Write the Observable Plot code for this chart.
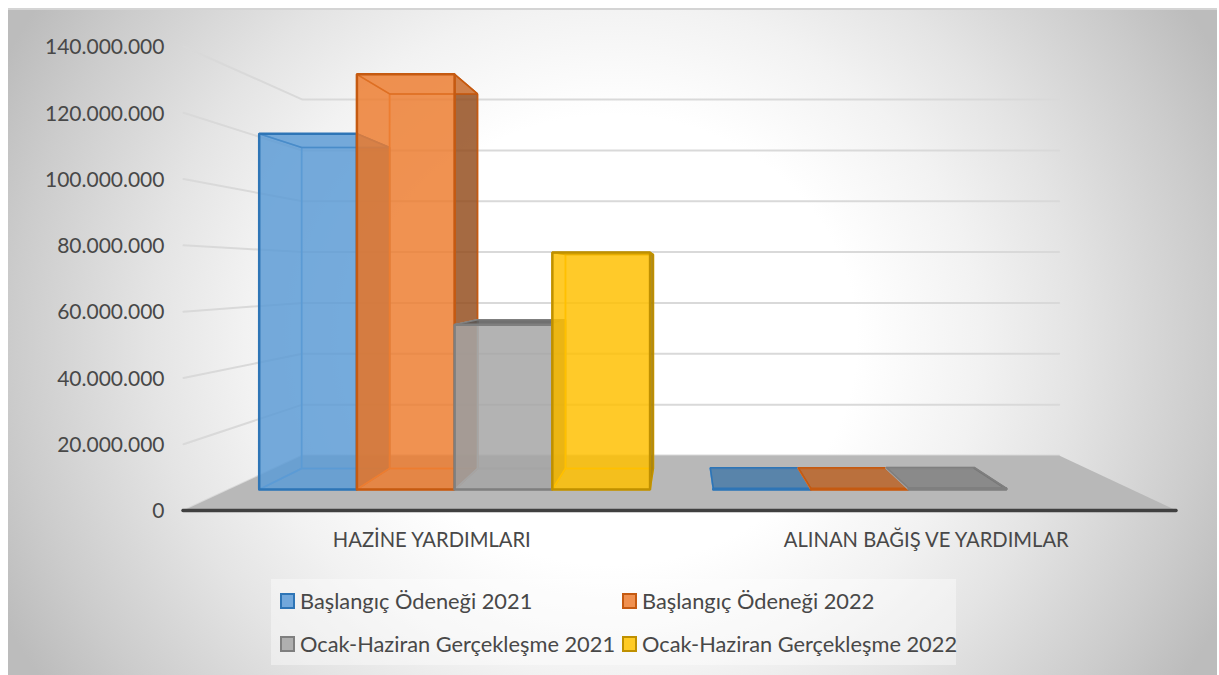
<!DOCTYPE html>
<html><head><meta charset="utf-8">
<script src="https://cdn.jsdelivr.net/npm/d3@7"></script>
<script src="https://cdn.jsdelivr.net/npm/@observablehq/plot@0.6"></script>
<style>
html,body{margin:0;padding:0;background:#fff}
#wrap{position:relative;width:1219px;height:675px;overflow:hidden;font-family:Lato,sans-serif}
#frame{position:absolute;left:8px;top:8px;width:1209px;height:667px;border-top:2px solid #d4d4d4;box-sizing:border-box;
 background:radial-gradient(ellipse 680px 625px at 604px 330px,#fff 36%,#f2f2f2 54%,#e4e4e4 68%,#cccccc 88%,#bcbcbc 100%)}
#chart{position:relative}
#chart svg{display:block;background:transparent!important}
#legend{position:relative;margin:4px 0 0 271px;width:685px;height:86px;background:rgba(255,255,255,.4);display:grid;grid-template-columns:342px 343px;grid-template-rows:43px 43px;color:#484848;font-size:21.8px;align-items:center}
#legend div{display:flex;align-items:center;white-space:nowrap;padding-left:9px}
#legend i{display:block;width:11px;height:12px;border:2px solid;margin-right:5px;flex:none}
</style></head><body>
<div id="wrap"><div id="frame"></div><div id="chart"></div><div id="legend"></div></div>
<script>
const categories = ["HAZİNE YARDIMLARI", "ALINAN BAĞIŞ VE YARDIMLAR"];
const labelCenters = [0.5, 1.496];
const barCenters = [0.5, 1.506];
const seriesNames = ["Başlangıç Ödeneği 2021", "Başlangıç Ödeneği 2022", "Ocak-Haziran Gerçekleşme 2021", "Ocak-Haziran Gerçekleşme 2022"];
const baslangic2021 = [117800000, 250000];
const baslangic2022 = [137500000, 250000];
const gerceklesme2021 = [54600000, 400000];
const gerceklesme2022 = [78500000, 0];
const seriesValues = [baslangic2021, baslangic2022, gerceklesme2021, gerceklesme2022];
const yTicks = [0, 20e6, 40e6, 60e6, 80e6, 100e6, 120e6, 140e6];
const baseColors = [[91,155,213],[237,125,49],[165,165,165],[255,192,0]];
const edgeColors = ["#2e75b6","#c55a11","#7f7f7f","#bf9000"];
const swatchFills = ["#72a8dc","#f0904f","#afafaf","#ffcb25"];

// Perspective of the 3D chart, in scale units
const vanishX = 1.007, shrinkX = 0.238, shrinkY = 0.233, floorRise = 16.6e6;
const tFront = 0.382, tBack = 0.764, barW = 0.2165;
const project = (u, v, t) => ({
  px: vanishX + (u - vanishX) * (1 - shrinkX * t),
  py: floorRise * t + v * (1 - shrinkY * t)
});
const rgba = (c, k, a) => `rgba(${c.map(x => Math.round(x * k)).join(",")},${a})`;

let id = 0;
const polys = [];
function poly(pts, fill, stroke, sw) {
  id++;
  [...pts, pts[0]].forEach(p => polys.push({...p, id, fill, stroke, sw}));
}
categories.forEach((cat, ci) => {
  const center = barCenters[ci];
  seriesValues.forEach((vals, si) => {
    const v = vals[ci];
    if (!v) return;
    const u0 = center + (si - 2) * barW, u1 = u0 + barW;
    const c = baseColors[si], e = edgeColors[si];
    const A = 0.6;
    const P = project;
    const base = rgba(c, 1, A);
    const mid = rgba(c, 1, 0.9);
    const flat = v < 2e6;
    const above = P(u0, v, tBack).py > P(u0, v, tFront).py;
    const topFill = flat ? rgba(c, 0.7, A) : above ? rgba(c, 0.33, A) : base;
    // back, bottom, left, right, top, front
    poly([P(u0,0,tBack),P(u1,0,tBack),P(u1,v,tBack),P(u0,v,tBack)], base, mid, 1.5);
    poly([P(u0,0,tFront),P(u1,0,tFront),P(u1,0,tBack),P(u0,0,tBack)], base, mid, 1.5);
    poly([P(u0,0,tFront),P(u0,v,tFront),P(u0,v,tBack),P(u0,0,tBack)], base, mid, 1.5);
    poly([P(u1,0,tFront),P(u1,v,tFront),P(u1,v,tBack),P(u1,0,tBack)], rgba(c, 0.47, A), e, 1.5);
    poly([P(u0,v,tFront),P(u1,v,tFront),P(u1,v,tBack),P(u0,v,tBack)], topFill, e, 1.5);
    poly([P(u0,0,tFront),P(u1,0,tFront),P(u1,v,tFront),P(u0,v,tFront)], base, e, 2.5);
  });
});

// walls and floor
const grid = yTicks.flatMap(v => [project(0, v, 0), project(0, v, 1), project(2, v, 1)].map(p => ({...p, v})));
const floor = [project(0,0,0), project(2,0,0), project(2,0,1), project(0,0,1)];

const dots = d3.formatLocale({decimal: ",", thousands: ".", grouping: [3], currency: ["", ""]}).format(",d");

const chart = Plot.plot({
  width: 1219, height: 575,
  marginLeft: 183, marginRight: 43, marginTop: 46, marginBottom: 65,
  style: {background: "transparent", fontFamily: "Lato, sans-serif"},
  x: {domain: [0, 2], range: [183, 1176]},
  y: {domain: [0, 140e6], range: [510, 46]},
  color: {type: "identity"},
  marks: [
    Plot.line(grid, {x: "px", y: "py", z: "v", stroke: "#d9d9d9", strokeWidth: 2}),
    Plot.line(floor, {x: "px", y: "py", fill: "#b8b8b8", stroke: "none"}),
    Plot.line(polys, {x: "px", y: "py", z: "id", fill: "fill", stroke: "stroke", strokeWidth: "sw", strokeLinejoin: "miter"}),
    Plot.ruleY([0], {x1: 0, x2: 2, stroke: "#404040", strokeWidth: 3.5, strokeLinecap: "round"}),
    Plot.axisY({ticks: yTicks, tickFormat: dots, tickSize: 0, tickPadding: 19, dy: 1, label: null, fontSize: 21, fill: "#484848"}),
    Plot.axisX({ticks: labelCenters, tickFormat: d => categories[labelCenters.indexOf(d)], tickSize: 0, tickPadding: 22, label: null, fontSize: 20.2, fill: "#484848"})
  ]
});
document.getElementById("chart").append(chart);

const legend = document.getElementById("legend");
seriesNames.forEach((n, i) => {
  const d = document.createElement("div");
  const s = document.createElement("i");
  s.style.background = swatchFills[i];
  s.style.borderColor = edgeColors[i];
  d.append(s, n);
  legend.append(d);
});
</script>
</body></html>
